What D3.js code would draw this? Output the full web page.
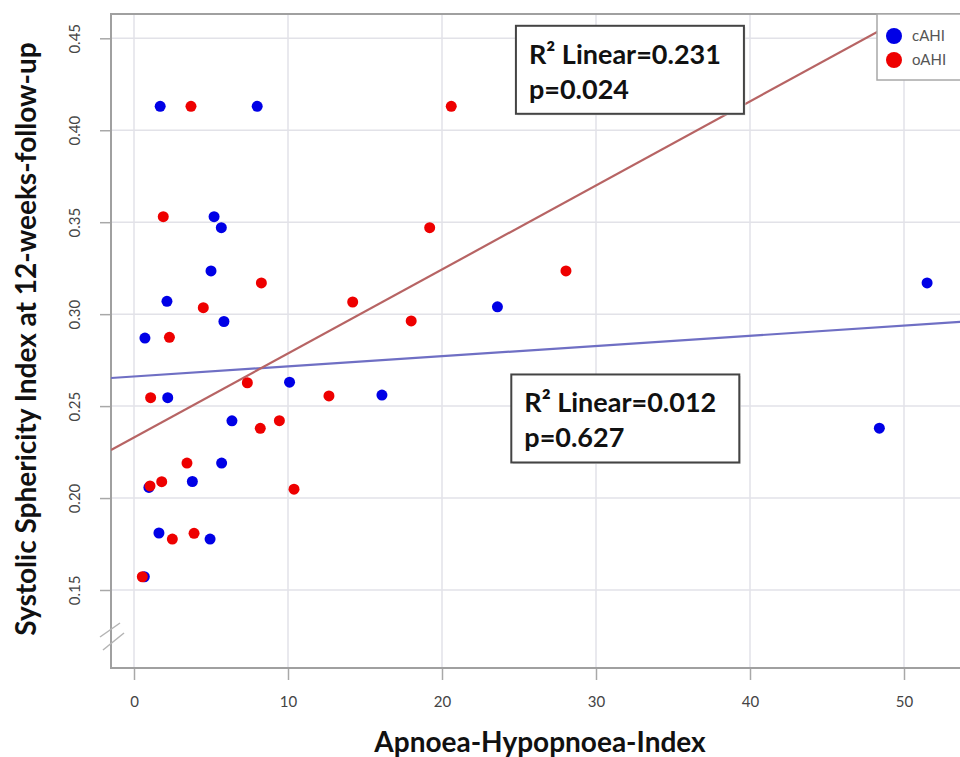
<!DOCTYPE html>
<html>
<head>
<meta charset="utf-8">
<script src="https://cdn.jsdelivr.net/npm/d3@7"></script>
<style>
  body { margin: 0; background: #fff; }
  text { font-family: Lato, "Liberation Sans", sans-serif; }
</style>
</head>
<body>
<div id="chart"></div>
<script>
// cAHI (blue) and oAHI (red) points
const cAhiX = [1.7, 8.0, 5.2, 5.67, 5.0, 2.14, 5.84, 0.71, 23.6, 51.5, 10.1, 2.19, 16.1, 6.36, 5.69, 3.79, 0.97, 1.62, 4.94, 0.67, 48.4];
const cAhiY = [0.413, 0.413, 0.353, 0.347, 0.3235, 0.307, 0.296, 0.287, 0.304, 0.317, 0.263, 0.2546, 0.256, 0.242, 0.219, 0.209, 0.2058, 0.181, 0.1777, 0.1572, 0.238];

const oAhiX = [3.7, 20.6, 1.9, 8.27, 4.5, 2.3, 19.2, 28.05, 14.2, 18.0, 12.66, 7.36, 1.08, 9.44, 8.2, 3.44, 1.8, 1.04, 10.39, 3.9, 2.49, 0.54];
const oAhiY = [0.413, 0.413, 0.353, 0.317, 0.3035, 0.2874, 0.347, 0.3235, 0.3066, 0.2963, 0.2555, 0.2627, 0.2546, 0.2421, 0.2379, 0.219, 0.2089, 0.2066, 0.2048, 0.1808, 0.1777, 0.1572];

// fit lines: [intercept, slope]
const oAhiFit = [0.2329, 0.00457];
const cAhiFit = [0.2661, 0.000553];

const xTicks = [0, 10, 20, 30, 40, 50];
const yTicks = [0.15, 0.20, 0.25, 0.30, 0.35, 0.40, 0.45];

const seriesNames = ["cAHI", "oAHI"];
const seriesColors = ["#0000e6", "#ee0000"];
const fitColors = ["#6f6fc4", "#b76464"];

const notes = [
  { x: 24.8, y: 0.4568, lines: ["R² Linear=0.231", "p=0.024"] },
  { x: 24.5, y: 0.2672, lines: ["R² Linear=0.012", "p=0.627"] }
];

const width = 960, height = 757;
const frame = { left: 111, top: 14, right: 990, bottom: 668 };

const svg = d3
  .select("#chart")
  .append("svg")
  .attr("width", width)
  .attr("height", height);

const x = d3.scaleLinear().domain([0, 50]).range([134, 904]);
const y = d3.scaleLinear().domain([0.15, 0.45]).range([590, 38.3]);

svg.append("clipPath")
  .attr("id", "plotclip")
  .append("rect")
  .attr("x", frame.left)
  .attr("y", frame.top)
  .attr("width", frame.right - frame.left)
  .attr("height", frame.bottom - frame.top);

// grid
const grid = svg.append("g").attr("stroke", "#e2e2e8").attr("stroke-width", 1.5);
grid.selectAll(".gx")
  .data(xTicks)
  .enter()
  .append("line")
  .attr("x1", (d) => x(d))
  .attr("x2", (d) => x(d))
  .attr("y1", frame.top)
  .attr("y2", frame.bottom);
grid.selectAll(".gy")
  .data(yTicks)
  .enter()
  .append("line")
  .attr("x1", frame.left)
  .attr("x2", frame.right)
  .attr("y1", (d) => y(d))
  .attr("y2", (d) => y(d));

// axes
const xAxis = svg.append("g")
  .attr("transform", `translate(0, ${frame.bottom})`)
  .call(d3.axisBottom(x).tickValues(xTicks).tickSize(12).tickPadding(16).tickFormat(d3.format("d")));
xAxis.select(".domain").remove();
xAxis.selectAll("line").attr("stroke", "#a8a8a8").attr("stroke-width", 1.5);
xAxis.selectAll("text")
  .style("font-size", "15px")
  .style("fill", "#444");

const yAxis = svg.append("g")
  .attr("transform", `translate(${frame.left}, 0)`)
  .call(d3.axisLeft(y).tickValues(yTicks).tickSize(11).tickFormat(d3.format(".2f")));
yAxis.select(".domain").remove();
yAxis.selectAll("line").attr("stroke", "#a8a8a8").attr("stroke-width", 1.5);
yAxis.selectAll("text")
  .attr("x", null)
  .attr("dy", null)
  .attr("transform", "translate(-36,0) rotate(-90)")
  .attr("text-anchor", "middle")
  .attr("dy", "0.35em")
  .style("font-size", "15px")
  .style("fill", "#444");

// frame (left, top, bottom)
svg.append("path")
  .attr("d", `M${frame.right},${frame.top}H${frame.left}V${frame.bottom}H${frame.right}`)
  .attr("fill", "none")
  .attr("stroke", "#a0a0a0")
  .attr("stroke-width", 2);

// axis break marks
const brk = svg.append("g").attr("stroke", "#b4b4b4").attr("stroke-width", 1.5);
brk.append("line").attr("x1", 100).attr("y1", 637).attr("x2", 120).attr("y2", 623);
brk.append("line").attr("x1", 103).attr("y1", 650).attr("x2", 124).attr("y2", 633);

// fit lines
const plot = svg.append("g").attr("clip-path", "url(#plotclip)");
const fitLine = (fit) => {
  const d0 = x.invert(frame.left), d1 = x.invert(frame.right);
  return [[d0, fit[0] + fit[1] * d0], [d1, fit[0] + fit[1] * d1]];
};
[cAhiFit, oAhiFit].forEach((fit, i) => {
  plot.append("path")
    .datum(fitLine(fit))
    .attr("d", d3.line().x((d) => x(d[0])).y((d) => y(d[1])))
    .attr("fill", "none")
    .attr("stroke", fitColors[i])
    .attr("stroke-width", 2.2);
});

// points
const pts = [
  d3.zip(cAhiX, cAhiY),
  d3.zip(oAhiX, oAhiY)
];
pts.forEach((p, i) => {
  plot.selectAll(".p" + i)
    .data(p)
    .enter()
    .append("circle")
    .attr("cx", (d) => x(d[0]))
    .attr("cy", (d) => y(d[1]))
    .attr("r", 5.5)
    .attr("fill", seriesColors[i]);
});

// annotation boxes
notes.forEach((n) => {
  const g = svg.append("g").attr("transform", `translate(${x(n.x)}, ${y(n.y)})`);
  g.append("rect")
    .attr("x", 1.5).attr("y", 1.5)
    .attr("width", 228).attr("height", 88)
    .attr("fill", "#ddd");
  g.append("rect")
    .attr("width", 228).attr("height", 88)
    .attr("fill", "#fff")
    .attr("stroke", "#444")
    .attr("stroke-width", 2);
  g.selectAll("text")
    .data(n.lines)
    .enter()
    .append("text")
    .attr("x", 13)
    .attr("y", (d, i) => 38 + i * 35)
    .style("font-size", "27px")
    .style("font-weight", "bold")
    .style("fill", "#111")
    .text((d) => d);
});

// legend
const legend = svg.append("g").attr("transform", "translate(877, 14)");
legend.append("rect")
  .attr("width", 100).attr("height", 66)
  .attr("fill", "#fff")
  .attr("stroke", "#a8a8a8")
  .attr("stroke-width", 1.5);
seriesNames.forEach((s, i) => {
  legend.append("circle")
    .attr("cx", 17).attr("cy", 22 + i * 24)
    .attr("r", 8)
    .attr("fill", seriesColors[i]);
  legend.append("text")
    .attr("x", 35).attr("y", 22 + i * 24)
    .attr("dy", "0.35em")
    .style("font-size", "15px")
    .style("fill", "#555")
    .text(s);
});

// titles
svg.append("text")
  .attr("x", 540).attr("y", 752)
  .attr("text-anchor", "middle")
  .style("font-size", "28px")
  .style("font-weight", "bold")
  .style("fill", "#111")
  .text("Apnoea-Hypopnoea-Index");

svg.append("text")
  .attr("transform", "translate(36, 339) rotate(-90)")
  .attr("text-anchor", "middle")
  .style("font-size", "28px")
  .style("font-weight", "bold")
  .style("fill", "#111")
  .text("Systolic Sphericity Index at 12-weeks-follow-up");
</script>
</body>
</html>
